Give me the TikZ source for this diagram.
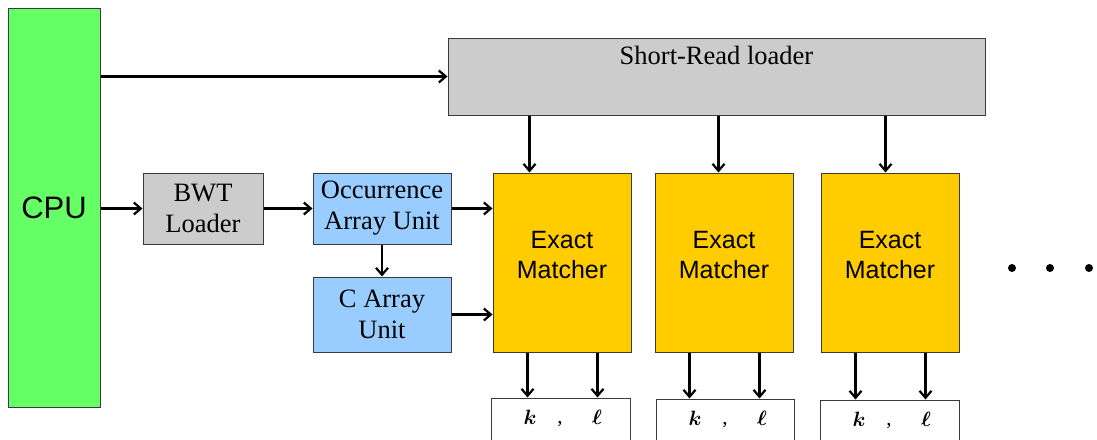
\documentclass[tikz,border=0pt]{standalone}
\usepackage{amsmath}
\usepackage{fontspec}
\setmainfont{Liberation Serif}
\newfontfamily\arialfont{Liberation Sans}
\usetikzlibrary{arrows.meta,calc}
\definecolor{cpugreen}{HTML}{66FF66}
\definecolor{loadgray}{HTML}{CCCCCC}
\definecolor{unitblue}{HTML}{99CCFF}
\definecolor{matchgold}{HTML}{FFCC00}
\definecolor{edge}{HTML}{3A3A3A}
\tikzset{
  blk/.style={draw=edge, line width=1pt, inner sep=0pt, align=center,
    font=\fontsize{26.5}{31}\selectfont},
  matcher/.style={blk, fill=matchgold, minimum width=138pt, minimum height=179pt},
  mcaption/.style={inner sep=0pt, align=center, font=\arialfont\fontsize{25}{30}\selectfont},
  outbox/.style={draw=edge, line width=1pt, fill=white, inner sep=0pt,
    minimum width=139pt, minimum height=80pt, anchor=north west},
  arr/.style={draw=black, line width=2.2pt, -{Straight Barb[length=7pt,width=12pt]}},
  dot/.style={circle, fill=black, inner sep=0pt, minimum size=8pt},
  klabel/.style={font=\fontsize{21}{21}\selectfont}
}
\begin{document}
\begin{tikzpicture}[x=1pt,y=-1pt]
\useasboundingbox (0,0) rectangle (1097,439);
\clip (0,0) rectangle (1097,439);

% host processor
\node[blk, fill=cpugreen, minimum width=92pt, minimum height=399pt,
      font=\arialfont\fontsize{31}{31}\selectfont] (cpu) at (54,207.5) {CPU};

% read loader with its caption near the top
\node[blk, fill=loadgray, minimum width=537pt, minimum height=77pt] (sr) at (716.5,76.5) {};
\node[font=\fontsize{26.5}{31}\selectfont, anchor=north, inner sep=0pt] (srtext) at ($(sr.north)+(0,8)$) {Short-Read loader};

% index pipeline
\node[blk, fill=loadgray, minimum width=120pt, minimum height=71pt] (bwt) at (203,208.5) {BWT\\Loader};
\node[blk, fill=unitblue, minimum width=138pt, minimum height=71pt] (occ) at (382,208.5) {Occurrence\\Array Unit};
\node[blk, fill=unitblue, minimum width=138pt, minimum height=75pt] (carr) at (382,314.5) {C Array\\Unit};

% matchers, captions sitting a little above centre
\foreach \m/\x in {em1/562,em2/724,em3/890}{
  \node[matcher] (\m) at (\x,262.5) {};
  \node[mcaption] (\m t) at ($(\m.center)+(0,-7)$) {Exact\\Matcher};
}

% result boxes
\node[outbox] (out1) at (491,397.5) {};
\node[outbox, minimum width=138pt] (out2) at (656,398.5) {};
\node[outbox] (out3) at (820,399.5) {};
\foreach \o in {out1,out2,out3}{
  \node[klabel] (\o k) at ($(\o.north west)+(39,20)$) {$\boldsymbol{k}$};
  \node[klabel] (\o c) at ($(\o.north west)+(69,27)$) {,};
  \node[klabel] (\o l) at ($(\o.north west)+(106,20)$) {$\boldsymbol{\ell}$};
}

% continuation dots
\node[dot] (d1) at (1012,268) {};
\node[dot] (d2) at (1050,268) {};
\node[dot] (d3) at (1089,268) {};

% feed points on the matchers
\coordinate (in1) at ($(em1.north west)+(37,0)$);
\coordinate (in2) at ($(em2.north west)+(64,0)$);
\coordinate (in3) at ($(em3.north west)+(65,0)$);

% connectors
\draw[arr] (cpu.east |- sr.west) -- (sr.west);
\draw[arr] (cpu.east |- bwt.west) -- (bwt.west);
\draw[arr] (bwt.east) -- (occ.west);
\draw[arr] (occ.south) -- (carr.north);
\draw[arr] (occ.east) -- (occ.east -| em1.west);
\draw[arr] (carr.east) -- (carr.east -| em1.west);

\foreach \i in {1,2,3}{
  \draw[arr] (sr.south -| in\i) -- (in\i);
}

\foreach \m/\o in {em1/out1,em2/out2,em3/out3}{
  \coordinate (\m a) at ($(\m.south west)+(35,0)$);
  \coordinate (\m b) at ($(\m.south east)+(-34,0)$);
  \draw[arr] (\m a) -- (\m a |- \o.north);
  \draw[arr] (\m b) -- (\m b |- \o.north);
}
\end{tikzpicture}
\end{document}
